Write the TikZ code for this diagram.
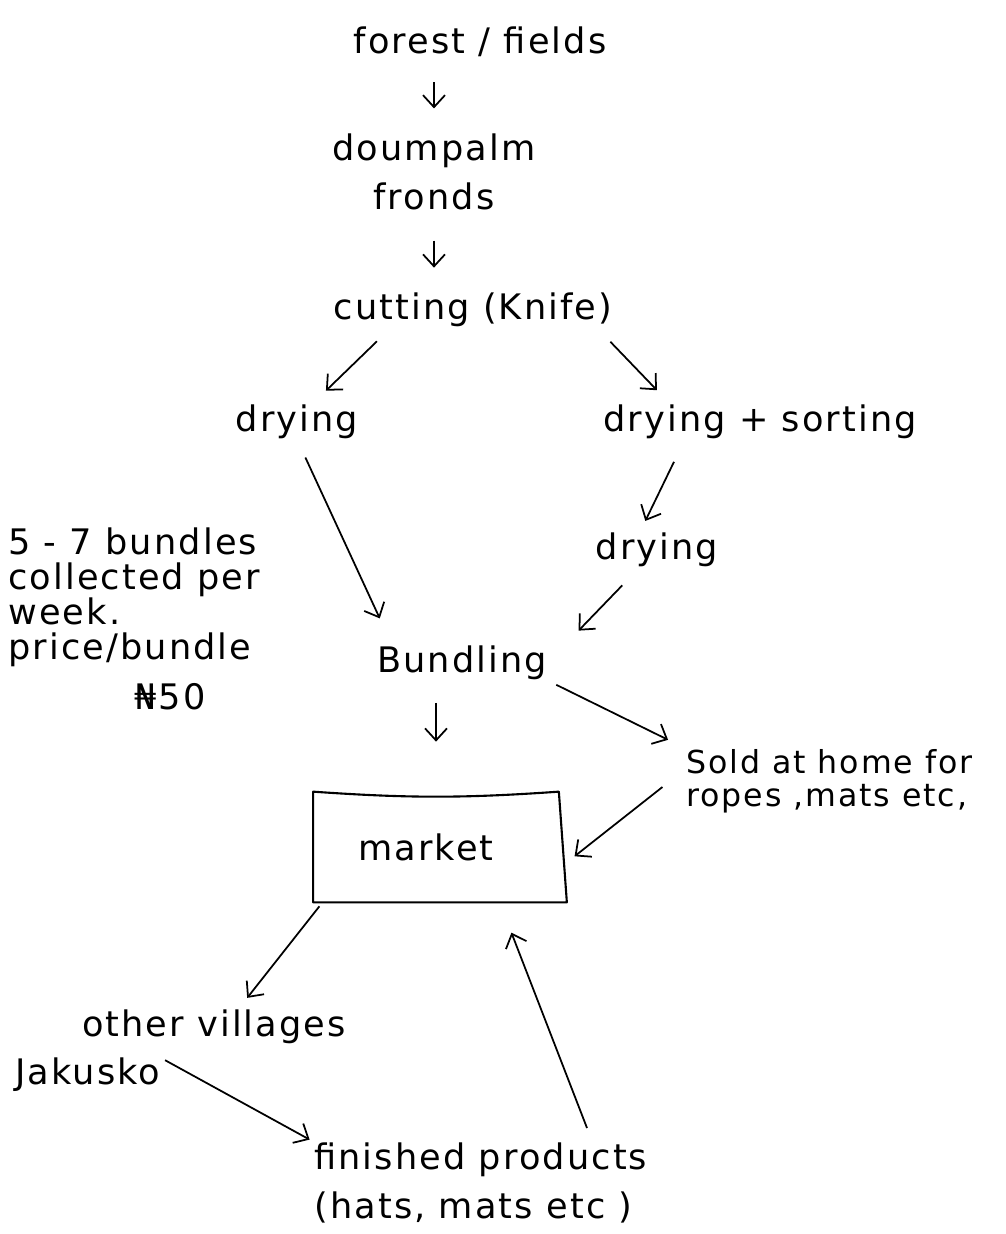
\documentclass[tikz,border=0pt]{standalone}
\usepackage{fontspec}
\setmainfont{DejaVu Sans}[LetterSpace=6]
\usetikzlibrary{arrows.meta}
% keep baselines regular in the stacked labels
\lineskiplimit=-20pt

\begin{document}
\begin{tikzpicture}[x=0.2mm,y=-0.2mm,
    every node/.style={inner sep=0pt,font=\fontsize{20}{28}\selectfont},
    flow/.style={-{Straight Barb[length=2.4mm,width=4.4mm]},line width=1pt},
    sketch/.style={line width=1.2pt,line join=round}]
  \useasboundingbox (0,0) rectangle (1006,1234);

  % stages of the frond chain
  \node (forest) at (480,42) {forest / fields};
  \node[align=center] (palm) at (434,172) {doumpalm\\fronds};
  \node (cut) at (473,310) {cutting (Knife)};
  \node (dryA) at (297,422) {drying};
  \node[anchor=west] (drysort) at (603,422) {drying + sorting};
  \node (dryB) at (657,550) {drying};
  \node (bundle) at (462,663) {Bundling};
  \node[align=left,anchor=west,font=\fontsize{18}{19}\selectfont] (sold) at (686,781) {Sold at home for\\ropes ,mats etc,};
  \node[minimum width=49mm,minimum height=22mm] (market) at (436,847) {market\hspace*{4mm}};
  \node (villages) at (214,1027) {other villages};
  \node[anchor=west] (jakusko) at (15,1075) {Jakusko};
  \node[align=left,anchor=north west] (finished) at (314,1142) {finished products\\(hats, mats etc )};

  % side note on bundles
  \node[align=left,anchor=north west,font=\fontsize{20}{20}\selectfont] (note) at (8,527) {5 - 7 bundles\\collected per\\week.\\price/bundle};
  \node (price) at (170,697) {₦50};

  % hand drawn market box
  \draw[sketch] (market.north west) to[bend right=4] (market.north east)
    -- ([shift={(8,0)}]market.south east) -- (market.south west) -- cycle;

  \draw[flow,shorten <=5mm,shorten >=5mm] (palm.north |- forest.south) -- (palm.north);
  \draw[flow,shorten <=6mm,shorten >=5mm] (palm.south) -- (palm.south |- cut.north);
  \draw[flow,shorten <=4mm,shorten >=4mm] (cut.192) -- (dryA.50);
  \draw[flow,shorten <=4mm,shorten >=4mm] (cut.352) -- (drysort.169);
  \draw[flow,shorten <=4mm,shorten >=6mm] (dryA.south) -- (bundle.166);
  \draw[flow,shorten <=5mm,shorten >=2.6mm] (drysort.193) -- (dryB.135);
  \draw[flow,shorten <=5mm,shorten >=9mm] (dryB.225) -- (bundle.east);
  \draw[flow,shorten <=4.5mm,shorten >=10mm] (market.north |- bundle.south) -- (market.north);
  \draw[flow,shorten <=2mm,shorten >=4mm] (bundle.south east) -- (sold.north west);
  \draw[flow,shorten <=6mm,shorten >=4mm] (sold.175) -- (market.350);
  \draw[flow,shorten <=1mm,shorten >=3mm] (market.206) -- (villages.36);
  \draw[flow,shorten <=1mm,shorten >=1mm] (jakusko.north east) -- (finished.north west);
  \draw[flow,shorten <=3mm,shorten >=6.5mm] (finished.20) -- (market.319);
\end{tikzpicture}
\end{document}
